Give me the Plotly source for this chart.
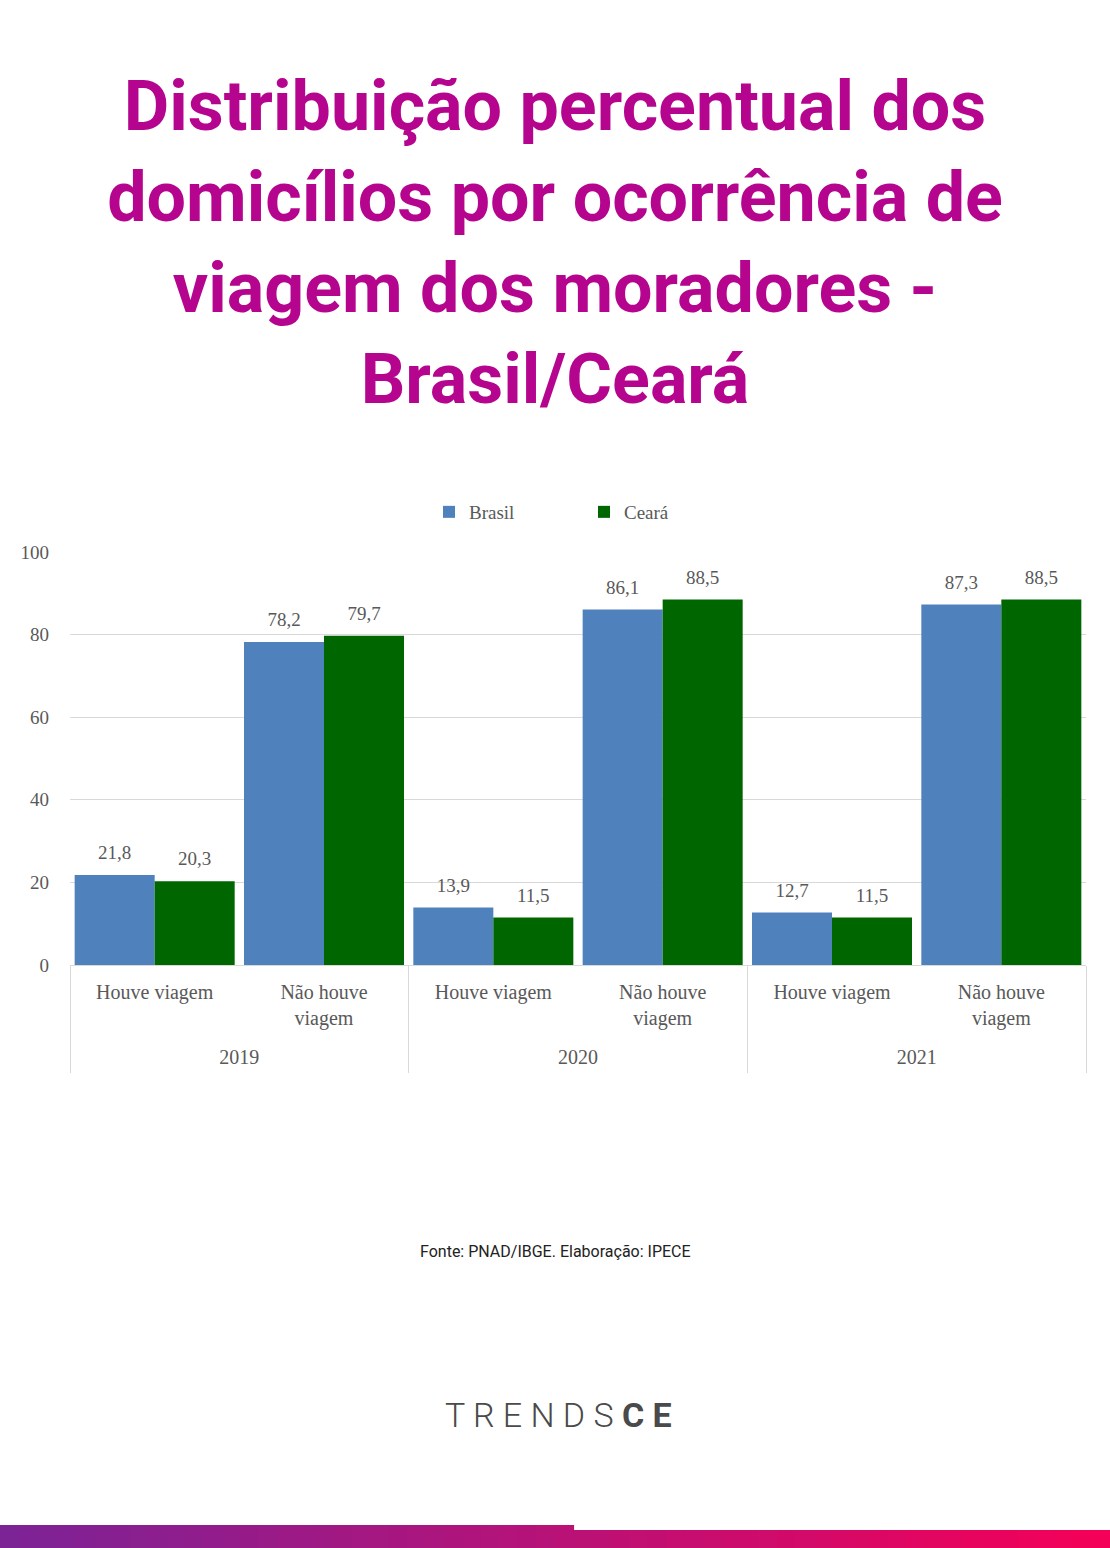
import plotly.graph_objects as go

years = ["2019", "2020", "2021"]
categories = ["Houve viagem", "Não houve<br>viagem",
              "Houve viagem", "Não houve<br>viagem",
              "Houve viagem", "Não houve<br>viagem"]
brasil = [21.8, 78.2, 13.9, 86.1, 12.7, 87.3]
ceara = [20.3, 79.7, 11.5, 88.5, 11.5, 88.5]
y_ticks = [0, 20, 40, 60, 80, 100]

SERIF = "Liberation Serif, Times New Roman, serif"
GRAY = "#595959"
LIGHT = "#D9D9D9"
GAP = 0.055

pos = list(range(len(categories)))
n_per_year = len(categories) // len(years)
year_centers = [i * n_per_year + (n_per_year - 1) / 2 for i in range(len(years))]
year_bounds = [i * n_per_year - 0.5 for i in range(len(years) + 1)]
xr = [-0.5, len(categories) - 0.5]

fig = go.Figure()
for name, vals, col in [("Brasil", brasil, "#4F81BD"), ("Ceará", ceara, "#006600")]:
    fig.add_trace(go.Bar(
        x=pos, y=vals, name=name,
        marker=dict(color=col, line=dict(width=0)),
        hovertemplate=name + ": %{y:.1f}<extra></extra>",
    ))
# value labels (grouped scatter aligned with the bars)
for name, vals in [("Brasil", brasil), ("Ceará", ceara)]:
    fig.add_trace(go.Scatter(
        x=pos, y=vals, mode="markers+text", name=name + " rótulo",
        text=[("%.1f" % v).replace(".", ",") for v in vals],
        textposition="top center",
        textfont=dict(family=SERIF, size=19, color=GRAY),
        marker=dict(size=16, opacity=0), showlegend=False, hoverinfo="skip",
        cliponaxis=False,
    ))
# helper traces so the overlaying axes are drawn
fig.add_trace(go.Scatter(x=[xr[0]], y=[0], xaxis="x2", mode="markers",
                         marker=dict(opacity=0), showlegend=False, hoverinfo="skip"))
fig.add_trace(go.Scatter(x=[xr[0]], y=[0], xaxis="x3", mode="markers",
                         marker=dict(opacity=0), showlegend=False, hoverinfo="skip"))

W, H = 1110, 1548
L, R, T, B = 70, 24, 552, 583
pw, ph = W - L - R, H - T - B

def px_x(x):
    return (x - L) / pw

def px_y(y):
    return (H - B - y) / ph

shapes = []
# bottom gradient bar
c0 = (0x7B, 0x23, 0x97)
c1 = (0xF5, 0x00, 0x57)
n = 60
for i in range(n):
    x0 = W * i / n
    x1 = W * (i + 1) / n + 0.6
    t = (i + 0.5) / n
    col = "rgb(%d,%d,%d)" % tuple(round(a + (b - a) * t) for a, b in zip(c0, c1))
    top = 1525 if (x0 + x1) / 2 < 577 else 1530
    shapes.append(dict(type="rect", xref="paper", yref="paper",
                       x0=px_x(x0), x1=px_x(x1), y0=px_y(H + 2), y1=px_y(top),
                       fillcolor=col, line=dict(width=0), layer="above"))

annotations = [
    dict(text="Fonte: PNAD/IBGE. Elaboração: IPECE", xref="paper", yref="paper",
         x=px_x(555), y=px_y(1251), xanchor="center", yanchor="middle", showarrow=False,
         font=dict(family="Roboto, sans-serif", size=16, color="#222222")),
    dict(text="T R E N D S <b>C E</b>", xref="paper", yref="paper",
         x=px_x(558), y=px_y(1415), xanchor="center", yanchor="middle", showarrow=False,
         font=dict(family="Roboto, sans-serif", size=34, color="#4a4a4a", weight=300)),
]

fig.update_layout(
    width=W, height=H,
    margin=dict(l=L, r=R, t=T, b=B, autoexpand=False),
    paper_bgcolor="white", plot_bgcolor="white",
    separators=",.",
    barmode="group", bargap=GAP, bargroupgap=0,
    scattermode="group", scattergap=GAP,
    title=dict(
        text="<b>Distribuição percentual dos<br>domicílios por ocorrência de<br>viagem dos moradores -<br>Brasil/Ceará</b>",
        x=0.5, xref="container", xanchor="center",
        y=1 - 130 / H, yref="container", yanchor="top",
        font=dict(family="Roboto, sans-serif", size=70, color="#B5058F"),
    ),
    legend=dict(orientation="h", x=0.5 + 6 / pw, xanchor="center", y=px_y(512), yanchor="middle",
                font=dict(family=SERIF, size=19, color=GRAY),
                entrywidth=110, entrywidthmode="pixels", itemwidth=30,
                bgcolor="rgba(0,0,0,0)"),
    yaxis=dict(range=[0, 100], tickvals=y_ticks,
               showgrid=True, gridcolor=LIGHT, gridwidth=1,
               zeroline=False, showline=False,
               tickfont=dict(family=SERIF, size=19, color=GRAY),
               ticks="", ticklabelstandoff=20, fixedrange=True),
    xaxis=dict(range=xr, tickvals=pos, ticktext=categories,
               showline=True, linecolor=LIGHT, showgrid=False, zeroline=False,
               tickfont=dict(family=SERIF, size=20, color=GRAY), ticks="",
               ticklabelstandoff=9, fixedrange=True),
    xaxis2=dict(overlaying="x", anchor="y", side="bottom", range=xr,
                tickvals=year_centers, ticktext=years,
                showline=False, showgrid=False, zeroline=False,
                tickfont=dict(family=SERIF, size=20, color=GRAY), ticks="",
                ticklabelstandoff=78, fixedrange=True),
    xaxis3=dict(overlaying="x", anchor="y", side="bottom", range=xr,
                tickvals=year_bounds, showticklabels=False,
                showline=False, showgrid=False, zeroline=False,
                ticks="outside", ticklen=107, tickcolor=LIGHT, tickwidth=1,
                fixedrange=True),
    shapes=shapes,
    annotations=annotations,
)

fig.write_html("out.html")
